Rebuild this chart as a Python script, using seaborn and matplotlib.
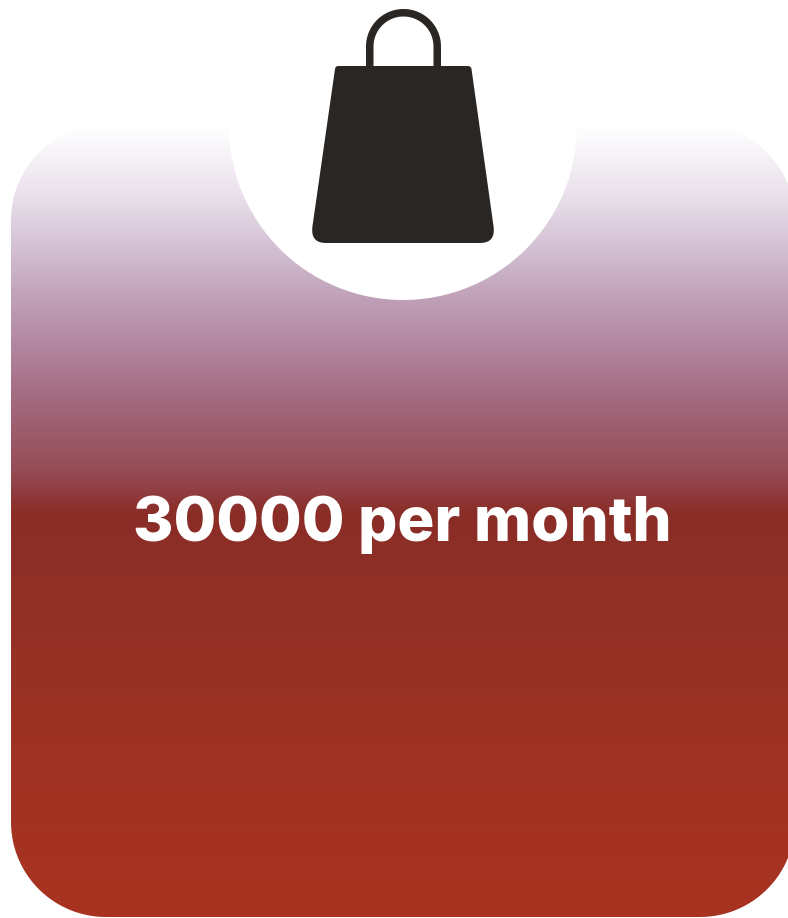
import numpy as np
import matplotlib
matplotlib.use('Agg')
import matplotlib.pyplot as plt
from matplotlib.colors import to_rgb
from matplotlib.patches import Circle, PathPatch
from matplotlib.path import Path
import seaborn as sns

LABEL = '30000 per month'

# gradient of the card, top to bottom
GRAD_Y = [125, 160, 200, 250, 300, 350, 400, 440, 470, 495, 512, 600, 700, 830, 917]
GRAD_COLORS = ['#ffffff', '#f5f0f6', '#e7dde9', '#d2bfd2', '#bf9fb7', '#b0849c', '#a3697e',
               '#9a5866', '#954c55', '#8f3a3c', '#8a2d26', '#913026', '#9a3225', '#a53222', '#a83220']
BAG_COLOR = '#292624'

sns.set_theme(style='white')
plt.rcParams['font.family'] = ['Inter', 'DejaVu Sans']


def rounded_card(x0, y0, x1, y1, r):
    # rectangle with true circular corners
    t = np.linspace(0, np.pi / 2, 30)
    pts = np.concatenate([
        np.c_[x1 - r + r * np.sin(t), y0 + r - r * np.cos(t)],
        np.c_[x1 - r + r * np.cos(t), y1 - r + r * np.sin(t)],
        np.c_[x0 + r - r * np.sin(t), y1 - r + r * np.cos(t)],
        np.c_[x0 + r - r * np.cos(t), y0 + r - r * np.sin(t)],
    ])
    return Path(np.r_[pts, pts[:1]], closed=True)


fig = plt.figure(figsize=(7.88, 9.18), dpi=100)
ax = fig.add_axes([0, 0, 1, 1])

# gradient column, clipped to the rounded card
rows = np.arange(125, 918)
rgb = np.array([to_rgb(c) for c in GRAD_COLORS])
grad = np.stack([np.interp(rows, GRAD_Y, rgb[:, i]) for i in range(3)], axis=1)[:, None, :]
img = ax.imshow(grad, extent=(0, 800, 918, 125), aspect='auto', zorder=1)
card = PathPatch(rounded_card(11, 125, 795, 917, 95), fc='none', ec='none')
ax.add_patch(card)
img.set_clip_path(card)

ax.set_xlim(0, 788)
ax.set_ylim(918, 0)
ax.axis('off')

# white notch behind the bag
ax.add_patch(Circle((403, 126), 174, fc='white', ec='none', zorder=2))

# bag body
body_verts = [(338, 66), (468, 66), (471, 66), (471.5, 69), (493.5, 226), (496, 243), (480, 243),
              (326, 243), (310, 243), (312.5, 226), (335, 69), (335.5, 66), (338, 66)]
body_codes = [Path.MOVETO, Path.LINETO, Path.CURVE3, Path.CURVE3, Path.LINETO, Path.CURVE3, Path.CURVE3,
              Path.LINETO, Path.CURVE3, Path.CURVE3, Path.LINETO, Path.CURVE3, Path.CURVE3]
ax.add_patch(PathPatch(Path(body_verts, body_codes), fc=BAG_COLOR, ec='none', zorder=3))

# bag handle
theta = np.linspace(np.pi, 2 * np.pi, 60)
hx = np.r_[369.75, 403.5 + 33.75 * np.cos(theta), 437.25]
hy = np.r_[68, 46.5 + 33.75 * np.sin(theta), 68]
ax.plot(hx, hy, color=BAG_COLOR, lw=5.4, solid_capstyle='butt', zorder=3)

ax.text(402.5, 541.5, LABEL, color='white', fontsize=44.5, fontweight=800,
        ha='center', va='baseline', zorder=4)

fig.savefig('out.png', dpi=100)
